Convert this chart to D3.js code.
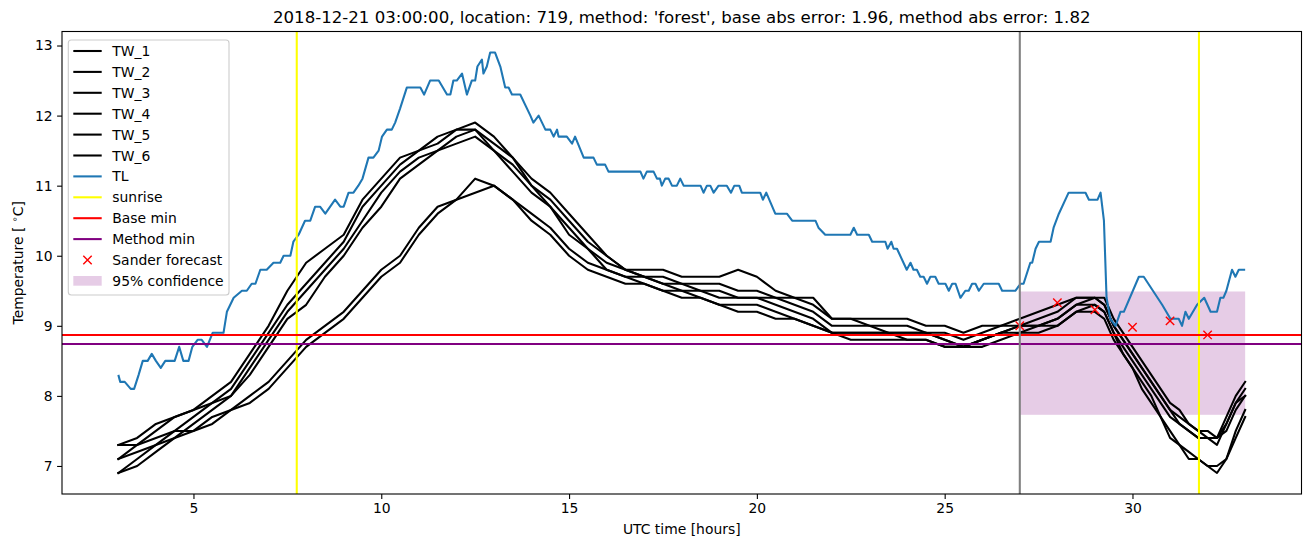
<!DOCTYPE html>
<html><head><meta charset="utf-8">
<script src="https://cdn.jsdelivr.net/npm/d3@7"></script>
<style>body{margin:0;background:#fff} svg{display:block} text{font-family:"DejaVu Sans",sans-serif;fill:#000}</style>
</head><body><svg id="c" width="1311" height="547"></svg>
<script>
// ---------- data ----------
const titleText = "2018-12-21 03:00:00, location: 719, method: 'forest', base abs error: 1.96, method abs error: 1.82";
const tlHours = [3.0,3.05,3.17,3.33,3.42,3.54,3.65,3.78,3.89,4.0,4.13,4.25,4.5,4.62,4.73,4.87,4.97,5.11,5.22,5.36,5.51,5.8,5.89,6.07,6.29,6.42,6.55,6.65,6.78,6.95,7.13,7.31,7.4,7.58,7.66,7.8,7.97,8.11,8.24,8.37,8.51,8.64,8.77,8.91,9.0,9.13,9.26,9.39,9.5,9.66,9.79,9.93,10.02,10.15,10.28,10.37,10.5,10.68,10.77,11.04,11.14,11.3,11.53,11.75,11.84,11.92,12.01,12.15,12.28,12.41,12.5,12.56,12.68,12.72,12.81,12.9,13.03,13.17,13.3,13.39,13.48,13.7,13.97,14.05,14.19,14.28,14.37,14.5,14.59,14.68,14.72,14.94,15.08,15.16,15.39,15.65,15.74,15.96,16.05,16.9,16.98,17.07,17.25,17.34,17.42,17.47,17.56,17.65,17.74,17.87,17.96,18.05,18.5,18.58,18.67,18.76,18.85,18.98,19.2,19.31,19.4,19.53,19.6,20.09,20.16,20.25,20.49,20.8,20.94,21.56,21.64,21.82,22.49,22.58,22.67,22.98,23.07,23.42,23.48,23.58,23.64,23.73,23.99,24.09,24.17,24.26,24.35,24.44,24.53,24.62,24.75,24.84,25.02,25.11,25.2,25.29,25.42,25.55,25.64,25.73,25.82,25.91,26.04,26.44,26.53,26.88,27.02,27.1,27.28,27.33,27.42,27.51,27.82,27.9,28.04,28.3,28.75,28.84,29.07,29.15,29.24,29.31,29.41,29.55,29.68,29.77,30.17,30.3,30.79,31.01,31.1,31.23,31.32,31.41,31.5,31.72,31.91,32.08,32.25,32.34,32.42,32.5,32.65,32.74,32.83,33.0];
const tlValues = [8.3,8.2,8.2,8.1,8.1,8.3,8.5,8.5,8.6,8.5,8.4,8.5,8.5,8.7,8.5,8.5,8.7,8.8,8.8,8.7,8.9,8.9,9.2,9.4,9.5,9.5,9.6,9.6,9.8,9.8,9.9,9.9,10.0,10.0,10.2,10.3,10.5,10.5,10.7,10.7,10.6,10.7,10.8,10.7,10.7,10.9,10.9,11.0,11.1,11.4,11.4,11.5,11.7,11.8,11.8,11.9,12.1,12.4,12.4,12.4,12.3,12.5,12.5,12.3,12.3,12.5,12.5,12.6,12.3,12.5,12.5,12.7,12.8,12.6,12.7,12.9,12.9,12.7,12.4,12.4,12.3,12.3,12.0,11.9,12.0,11.9,11.8,11.8,11.7,11.8,11.7,11.7,11.6,11.7,11.4,11.4,11.3,11.3,11.2,11.2,11.1,11.2,11.2,11.1,11.1,11.0,11.1,11.1,11.0,11.0,11.1,11.0,11.0,10.9,11.0,11.0,10.9,11.0,11.0,10.9,11.0,11.0,10.9,10.9,10.8,10.9,10.6,10.6,10.5,10.5,10.4,10.3,10.3,10.4,10.3,10.3,10.2,10.2,10.1,10.2,10.1,10.1,9.8,9.9,9.8,9.8,9.7,9.7,9.6,9.7,9.7,9.6,9.6,9.5,9.6,9.6,9.4,9.5,9.5,9.6,9.6,9.5,9.6,9.6,9.5,9.5,9.6,9.6,9.9,9.9,10.1,10.2,10.2,10.4,10.6,10.9,10.9,10.8,10.8,10.9,10.5,9.4,9.1,9.0,9.2,9.2,9.7,9.7,9.3,9.1,9.1,9.1,9.0,9.2,9.1,9.3,9.4,9.2,9.2,9.4,9.4,9.5,9.8,9.7,9.8,9.8];

const twHours = [3,3.5,4,4.5,5,5.5,6,6.5,7,7.5,8,8.5,9,9.5,10,10.5,11,11.5,12,12.5,13,13.5,14,14.5,15,15.5,16,16.5,17,17.5,18,18.5,19,19.5,20,20.5,21,21.5,22,22.5,23,23.5,24,24.5,25,25.5,26,26.5,27,27.5,28,28.5,29,29.25,29.5,29.75,30,30.25,30.5,30.75,31,31.25,31.5,31.75,32,32.25,32.5,32.75,33];
const tw1 = [7.3,7.4,7.6,7.7,7.8,8.0,8.2,8.6,9.0,9.5,9.9,10.1,10.3,10.8,11.1,11.4,11.5,11.7,11.8,11.9,11.7,11.4,11.1,10.9,10.6,10.3,10.0,9.8,9.8,9.8,9.7,9.7,9.7,9.8,9.7,9.5,9.4,9.4,9.1,9.1,9.1,9.1,9.1,9.0,9.0,8.9,9.0,9.0,9.1,9.2,9.3,9.4,9.4,9.4,9.1,8.9,8.7,8.5,8.3,8.1,7.9,7.8,7.6,7.5,7.5,7.4,7.7,8.0,8.2];
const tw2 = [7.1,7.3,7.5,7.7,7.8,7.9,8.1,8.5,8.9,9.3,9.6,9.9,10.2,10.7,11.0,11.3,11.5,11.6,11.8,11.8,11.6,11.4,11.0,10.8,10.5,10.2,10.0,9.8,9.7,9.7,9.6,9.6,9.6,9.5,9.5,9.4,9.4,9.3,9.1,9.1,9.0,9.0,9.0,8.9,8.9,8.8,8.9,9.0,9.0,9.1,9.2,9.4,9.4,9.3,9.0,8.8,8.6,8.4,8.2,8.0,7.8,7.7,7.6,7.5,7.4,7.4,7.6,7.9,8.1];
const tw3 = [6.9,7.1,7.3,7.5,7.7,7.9,8.0,8.4,8.8,9.2,9.5,9.8,10.1,10.5,10.9,11.2,11.4,11.5,11.7,11.8,11.5,11.3,11.0,10.7,10.4,10.1,9.9,9.8,9.7,9.6,9.6,9.5,9.5,9.4,9.4,9.4,9.3,9.2,9.0,9.0,9.0,8.9,8.9,8.9,8.8,8.7,8.8,8.9,9.0,9.0,9.1,9.3,9.4,9.3,9.0,8.8,8.6,8.4,8.2,8.0,7.8,7.6,7.5,7.4,7.4,7.3,7.6,7.9,8.0];
const tw4 = [6.9,7.0,7.2,7.4,7.6,7.8,8.0,8.3,8.7,9.1,9.3,9.7,10.0,10.4,10.7,11.1,11.3,11.5,11.6,11.7,11.5,11.2,10.9,10.7,10.3,10.1,9.8,9.7,9.7,9.6,9.5,9.5,9.4,9.4,9.4,9.3,9.2,9.1,8.9,8.9,8.9,8.9,8.8,8.8,8.7,8.7,8.8,8.9,8.9,9.0,9.0,9.2,9.3,9.2,8.9,8.7,8.5,8.3,8.1,7.9,7.7,7.6,7.5,7.4,7.4,7.4,7.5,7.8,8.0];
const tw5 = [7.3,7.3,7.4,7.5,7.5,7.7,7.8,8.0,8.2,8.5,8.8,9.0,9.2,9.5,9.8,10.0,10.4,10.7,10.8,11.1,11.0,10.8,10.6,10.4,10.1,9.9,9.8,9.7,9.6,9.5,9.5,9.4,9.3,9.3,9.3,9.2,9.1,9.0,8.9,8.9,8.9,8.9,8.9,8.9,8.8,8.7,8.8,8.9,9.0,9.0,9.1,9.3,9.3,9.2,8.9,8.6,8.4,8.2,8.0,7.7,7.5,7.3,7.2,7.1,7.0,7.0,7.1,7.5,7.8];
const tw6 = [7.1,7.2,7.3,7.4,7.5,7.6,7.8,7.9,8.1,8.4,8.7,8.9,9.1,9.4,9.7,9.9,10.3,10.6,10.8,10.9,11.0,10.8,10.5,10.3,10.0,9.8,9.7,9.6,9.6,9.5,9.4,9.4,9.3,9.2,9.2,9.1,9.1,9.0,8.9,8.8,8.8,8.8,8.8,8.8,8.7,8.7,8.7,8.8,8.9,8.9,9.0,9.2,9.2,9.1,8.8,8.6,8.4,8.1,7.9,7.7,7.4,7.3,7.1,7.1,7.0,6.9,7.1,7.4,7.7];
const twNames = ["TW_1","TW_2","TW_3","TW_4","TW_5","TW_6"];

const sunriseHours = [7.75, 31.77];
const baseMin = 8.87;
const methodMin = 8.74;
const forecastHours = [27, 28, 29, 30, 31, 32];
const forecastValues = [9.0, 9.33, 9.23, 8.98, 9.07, 8.87];
const confStart = 27, confEnd = 33, confLow = 7.73, confHigh = 9.49;
const nowHour = 27;
const xTicks = [5, 10, 15, 20, 25, 30];
const yTicks = [7, 8, 9, 10, 11, 12, 13];
const legendLabels = ["TW_1","TW_2","TW_3","TW_4","TW_5","TW_6","TL","sunrise","Base min","Method min","Sander forecast","95% confidence"];

// ---------- layout ----------
const L = 62, R = 1301.5, T = 31.5, B = 494;
const svg = d3.select("#c");
const x = d3.scaleLinear().domain([1.5, 34.5]).range([L, R]);
const y = d3.scaleLinear().domain([6.6, 13.2]).range([B, T]);
const lw = 2.08;

svg.append("defs").append("clipPath").attr("id","clip")
  .append("rect").attr("x",L).attr("y",T).attr("width",R-L).attr("height",B-T);
const g = svg.append("g").attr("clip-path","url(#clip)");

// confidence band
g.append("rect").attr("x", x(confStart)).attr("width", x(confEnd)-x(confStart))
  .attr("y", y(confHigh)).attr("height", y(confLow)-y(confHigh))
  .attr("fill", "purple").attr("fill-opacity", 0.2);

const line = d3.line().x(d => x(d[0])).y(d => y(d[1]));
[tw1,tw2,tw3,tw4,tw5,tw6].forEach(arr => {
  g.append("path").attr("d", line(twHours.map((h,i)=>[h, arr[i]])))
   .attr("fill","none").attr("stroke","#000").attr("stroke-width",lw).attr("stroke-linejoin","round").attr("stroke-linecap","square");
});
g.append("path").attr("d", line(tlHours.map((h,i)=>[h, tlValues[i]])))
  .attr("fill","none").attr("stroke","#1f77b4").attr("stroke-width",lw).attr("stroke-linejoin","round");

sunriseHours.forEach(h => g.append("line").attr("x1",x(h)).attr("x2",x(h)).attr("y1",T).attr("y2",B)
  .attr("stroke","yellow").attr("stroke-width",lw));
g.append("line").attr("x1",L).attr("x2",R).attr("y1",y(baseMin)).attr("y2",y(baseMin)).attr("stroke","red").attr("stroke-width",lw);
g.append("line").attr("x1",L).attr("x2",R).attr("y1",y(methodMin)).attr("y2",y(methodMin)).attr("stroke","purple").attr("stroke-width",lw);

function xMarker(sel, cx, cy, s) {
  sel.append("path").attr("d", `M${cx-s},${cy-s}L${cx+s},${cy+s}M${cx-s},${cy+s}L${cx+s},${cy-s}`)
    .attr("stroke","red").attr("stroke-width",1.4).attr("fill","none");
}
forecastHours.forEach((h,i) => xMarker(g, x(h), y(forecastValues[i]), 4.2));

g.append("line").attr("x1",x(nowHour)).attr("x2",x(nowHour)).attr("y1",T).attr("y2",B)
  .attr("stroke","gray").attr("stroke-width",lw);

// axes
const xAxis = svg.append("g").attr("transform",`translate(0,${B})`)
  .call(d3.axisBottom(x).tickValues(xTicks).tickSize(4.9).tickPadding(4).tickFormat(d3.format("d")));
const yAxis = svg.append("g").attr("transform",`translate(${L},0)`)
  .call(d3.axisLeft(y).tickValues(yTicks).tickSize(4.9).tickPadding(4.5).tickFormat(d3.format("d")));
[xAxis, yAxis].forEach(a => {
  a.select(".domain").remove();
  a.selectAll(".tick line").attr("stroke","#000").attr("stroke-width",1.1);
  a.selectAll(".tick text").attr("font-size","13.9px").attr("font-family","DejaVu Sans").attr("fill","#000");
});
svg.append("rect").attr("x",L).attr("y",T).attr("width",R-L).attr("height",B-T)
  .attr("fill","none").attr("stroke","#000").attr("stroke-width",1.1);

// labels
svg.append("text").attr("x",(L+R)/2).attr("y",23).attr("text-anchor","middle").attr("font-size","16.6px").text(titleText);
svg.append("text").attr("x",(L+R)/2).attr("y",534).attr("text-anchor","middle").attr("font-size","13.9px").text("UTC time [hours]");
const yl = svg.append("text").attr("transform",`translate(23,${(T+B)/2}) rotate(-90)`).attr("text-anchor","middle").attr("font-size","13.9px");
yl.append("tspan").text("Temperature [ ");
yl.append("tspan").attr("font-size","9.7px").attr("dy","-5").text("∘");
yl.append("tspan").attr("dy","5").text("C]");

// legend
const lg = svg.append("g");
lg.append("rect").attr("x",68.3).attr("y",40).attr("width",160.7).attr("height",255).attr("rx",3)
  .attr("fill","#fff").attr("fill-opacity",0.8).attr("stroke","#cccccc").attr("stroke-width",1.1);
const legendColors = ["#000","#000","#000","#000","#000","#000","#1f77b4","yellow","red","purple",null,null];
legendLabels.forEach((lab,i) => {
  const cy = 51 + i*20.9;
  if (i < 10) {
    lg.append("line").attr("x1",73.3).attr("x2",101.7).attr("y1",cy).attr("y2",cy)
      .attr("stroke",legendColors[i]).attr("stroke-width",lw);
  } else if (i === 10) {
    xMarker(lg, 87.5, cy, 4.2);
  } else {
    lg.append("rect").attr("x",73.3).attr("y",cy-4.9).attr("width",28.4).attr("height",9.7)
      .attr("fill","purple").attr("fill-opacity",0.2);
  }
  lg.append("text").attr("x",112.3).attr("y",cy+5).attr("font-size","13.9px").text(lab);
});
</script></body></html>
